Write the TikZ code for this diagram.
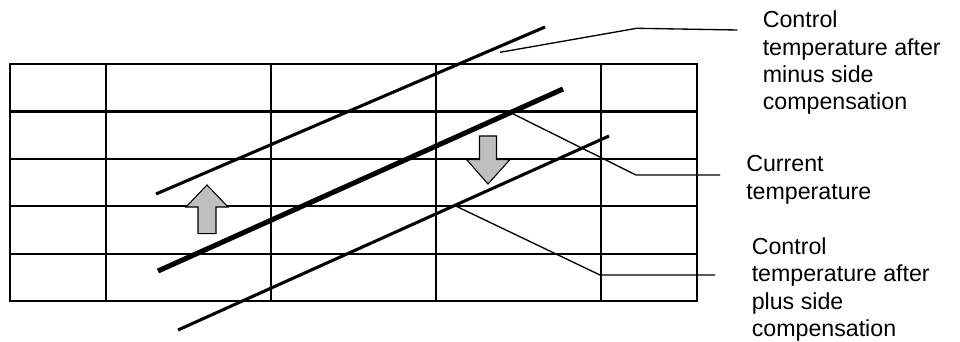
\documentclass[tikz,border=0pt]{standalone}
\usepackage{fontspec}
\setmainfont{Liberation Sans}
\begin{document}
\begin{tikzpicture}[x=0.75pt,y=-0.75pt,
  gridline/.style={line width=1.6pt},
  tline/.style={line width=2.3pt},
  thickline/.style={line width=3.8pt},
  leader/.style={line width=1pt},
  bigarrow/.style={draw, line width=0.8pt, fill=gray!50, line join=miter},
  lbl/.style={anchor=base west, inner sep=0pt, align=left,
    font=\fontsize{17.4pt}{20.6pt}\selectfont}]
\useasboundingbox (0,0) rectangle (960,342);
% grid
\draw[gridline] (10,64) rectangle (697,300.7);
\foreach \yy in {111.5,159,206,253.7} \draw[gridline] (10,\yy) -- (697,\yy);
\foreach \xx in {106,271,436,601} \draw[gridline] (\xx,64) -- (\xx,300.7);
% slanted lines
\coordinate (m1) at (156,194); \coordinate (m2) at (545,27);
\coordinate (c1) at (158,271); \coordinate (c2) at (563,89);
\coordinate (p1) at (178,330); \coordinate (p2) at (609,136);
\draw[tline] (m1) -- (m2);
\draw[thickline] (c1) -- (c2);
\draw[tline] (p1) -- (p2);
% arrows
\draw[bigarrow] (207,185) -- (228,207) -- (216,207) -- (216,233.7) -- (198,233.7) -- (198,207) -- (186,207) -- cycle;
\draw[bigarrow] (488,184) -- (510,159.5) -- (496.5,159.5) -- (496.5,136) -- (479.5,136) -- (479.5,159.5) -- (466.5,159.5) -- cycle;
% labels (anchored at the baseline of the last line)
\node[lbl] (lm) at (762.5,110) {Control\\temperature after\\minus side\\compensation};
\node[lbl] (lc) at (746,199.3) {Current\\temperature};
\node[lbl] (lp) at (751.5,336.7) {Control\\temperature after\\plus side\\compensation};
% leaders
\coordinate (am) at (500,52.3);
\coordinate (ac) at (513.3,114);
\coordinate (ap) at (456.7,206.5);
\draw[leader] (am) -- (636.7,28.3) -- (737.3,30);
\draw[leader] (ac) -- (636,175) -- (720,175);
\draw[leader] (ap) -- (600,275) -- (715,275);
\end{tikzpicture}
\end{document}
